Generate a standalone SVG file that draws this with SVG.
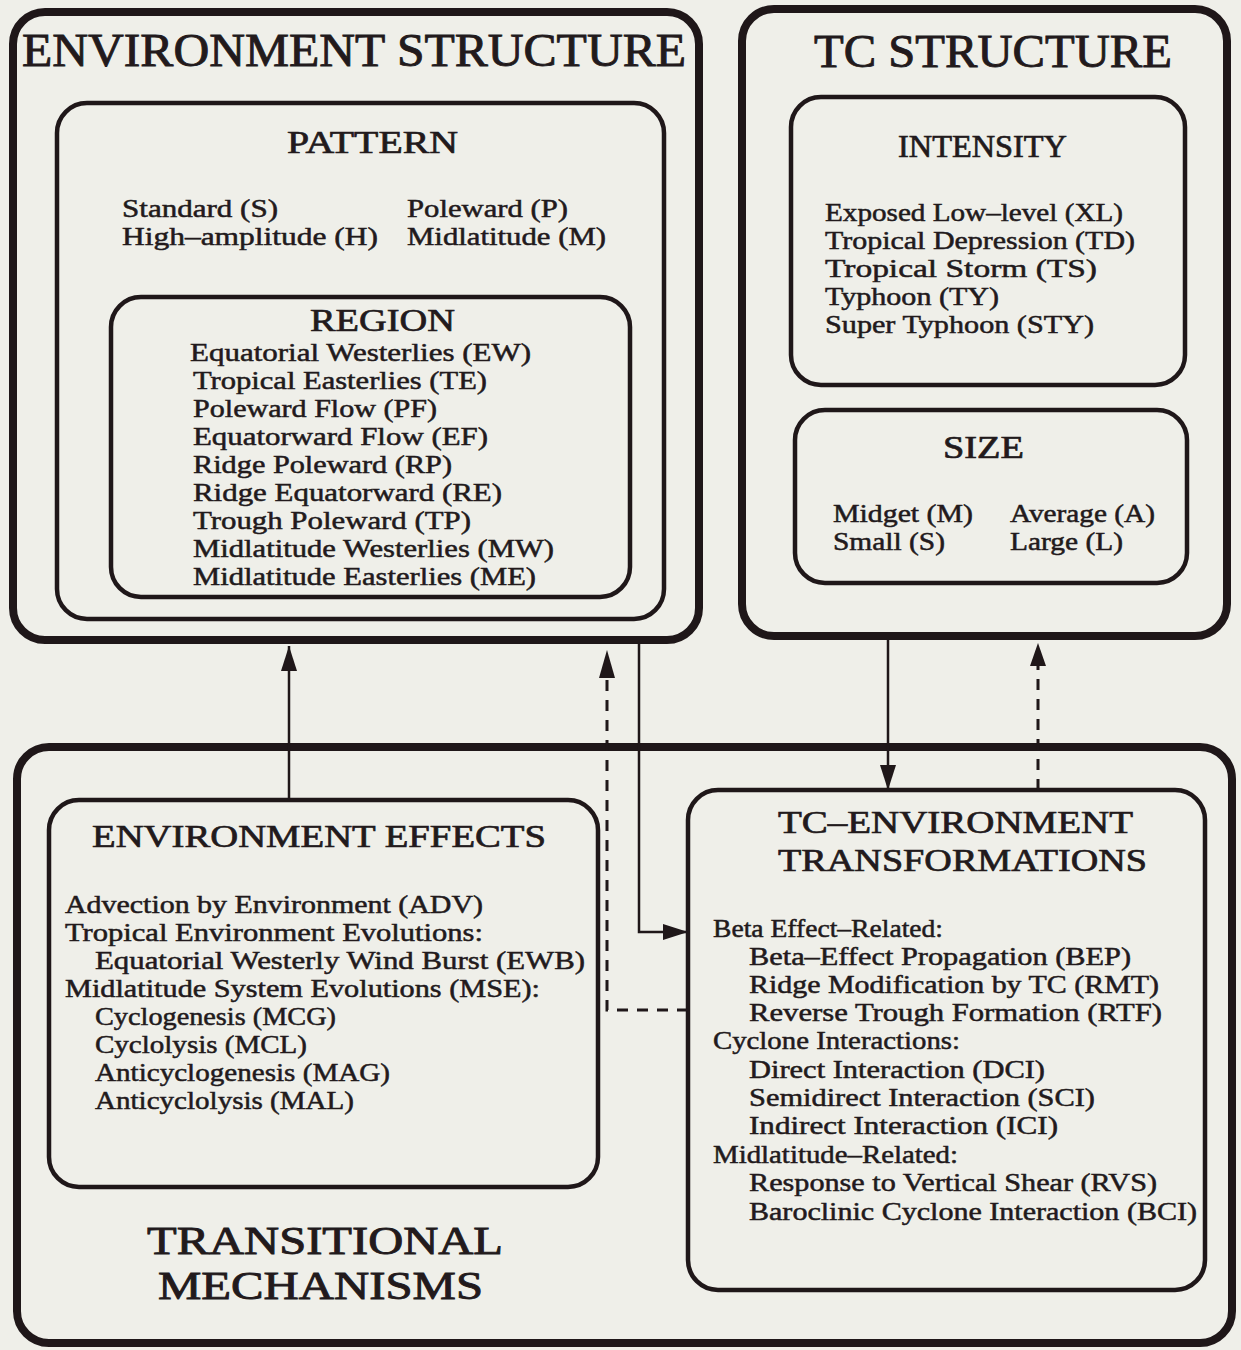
<svg xmlns="http://www.w3.org/2000/svg" width="1241" height="1350" viewBox="0 0 1241 1350">
  <style>
    text { font-family: "Liberation Serif", "Times New Roman", serif; fill: #221a1c; stroke: #221a1c; }
    .big { font-size: 46px; stroke-width: 0.9; }
    .big2 { font-size: 40px; stroke-width: 0.9; }
    .head { font-size: 32px; stroke-width: 0.7; }
    .body { font-size: 25px; stroke-width: 0.5; }
    .outer { fill: none; stroke: #1f1719; stroke-width: 8; }
    .inner { fill: none; stroke: #1f1719; stroke-width: 4.5; }
    .link { fill: none; stroke: #1f1719; stroke-width: 2.5; }
    .dash { fill: none; stroke: #1f1719; stroke-width: 3; stroke-dasharray: 11 9; }
  </style>
  <defs>
    <marker id="arrow" markerUnits="userSpaceOnUse" markerWidth="26" markerHeight="18" refX="25" refY="8" orient="auto">
      <path d="M0,0 L25,8 L0,16 Z" fill="#1f1719"/>
    </marker>
  </defs>

  <rect width="1241" height="1350" fill="#efefe9"/>

  <!-- Environment structure -->
  <g id="environment-structure">
    <rect class="outer" x="13" y="12" width="686" height="628" rx="32"/>
    <text class="big" x="22" y="66" textLength="664" lengthAdjust="spacingAndGlyphs">ENVIRONMENT STRUCTURE</text>
  </g>
  <g id="pattern">
    <rect class="inner" x="57" y="103" width="607" height="516" rx="30"/>
    <text class="head" x="287" y="153" textLength="171" lengthAdjust="spacingAndGlyphs">PATTERN</text>
    <text class="body" x="122" y="217" textLength="156" lengthAdjust="spacingAndGlyphs">Standard (S)</text>
    <text class="body" x="407" y="217" textLength="161" lengthAdjust="spacingAndGlyphs">Poleward (P)</text>
    <text class="body" x="122" y="245" textLength="256" lengthAdjust="spacingAndGlyphs">High–amplitude  (H)</text>
    <text class="body" x="407" y="245" textLength="199" lengthAdjust="spacingAndGlyphs">Midlatitude (M)</text>
  </g>
  <g id="region">
    <rect class="inner" x="111" y="297" width="519" height="300" rx="30"/>
    <text class="head" x="310" y="331" textLength="145" lengthAdjust="spacingAndGlyphs">REGION</text>
    <text class="body" x="190" y="361" textLength="341" lengthAdjust="spacingAndGlyphs">Equatorial Westerlies (EW)</text>
    <text class="body" x="193" y="389" textLength="294" lengthAdjust="spacingAndGlyphs">Tropical Easterlies (TE)</text>
    <text class="body" x="193" y="417" textLength="244" lengthAdjust="spacingAndGlyphs">Poleward Flow (PF)</text>
    <text class="body" x="193" y="445" textLength="295" lengthAdjust="spacingAndGlyphs">Equatorward Flow (EF)</text>
    <text class="body" x="193" y="473" textLength="259" lengthAdjust="spacingAndGlyphs">Ridge Poleward (RP)</text>
    <text class="body" x="193" y="501" textLength="309" lengthAdjust="spacingAndGlyphs">Ridge Equatorward (RE)</text>
    <text class="body" x="193" y="529" textLength="278" lengthAdjust="spacingAndGlyphs">Trough Poleward (TP)</text>
    <text class="body" x="193" y="557" textLength="361" lengthAdjust="spacingAndGlyphs">Midlatitude Westerlies (MW)</text>
    <text class="body" x="193" y="585" textLength="343" lengthAdjust="spacingAndGlyphs">Midlatitude Easterlies (ME)</text>
  </g>

  <!-- TC structure -->
  <g id="tc-structure">
    <rect class="outer" x="742" y="9" width="485" height="627" rx="32"/>
    <text class="big" x="814" y="67" textLength="358" lengthAdjust="spacingAndGlyphs">TC STRUCTURE</text>
  </g>
  <g id="intensity">
    <rect class="inner" x="791" y="97" width="394" height="288" rx="30"/>
    <text class="head" x="898" y="157" textLength="169" lengthAdjust="spacingAndGlyphs">INTENSITY</text>
    <text class="body" x="825" y="221" textLength="298" lengthAdjust="spacingAndGlyphs">Exposed Low–level (XL)</text>
    <text class="body" x="825" y="249" textLength="310" lengthAdjust="spacingAndGlyphs">Tropical Depression (TD)</text>
    <text class="body" x="825" y="277" textLength="272" lengthAdjust="spacingAndGlyphs">Tropical Storm (TS)</text>
    <text class="body" x="825" y="305" textLength="174" lengthAdjust="spacingAndGlyphs">Typhoon (TY)</text>
    <text class="body" x="825" y="333" textLength="269" lengthAdjust="spacingAndGlyphs">Super Typhoon (STY)</text>
  </g>
  <g id="size">
    <rect class="inner" x="795" y="410" width="392" height="173" rx="30"/>
    <text class="head" x="943" y="458" textLength="81" lengthAdjust="spacingAndGlyphs">SIZE</text>
    <text class="body" x="833" y="522" textLength="140" lengthAdjust="spacingAndGlyphs">Midget (M)</text>
    <text class="body" x="1010" y="522" textLength="145" lengthAdjust="spacingAndGlyphs">Average (A)</text>
    <text class="body" x="833" y="550" textLength="112" lengthAdjust="spacingAndGlyphs">Small (S)</text>
    <text class="body" x="1010" y="550" textLength="113" lengthAdjust="spacingAndGlyphs">Large (L)</text>
  </g>

  <!-- Transitional mechanisms -->
  <g id="transitional-mechanisms">
    <rect class="outer" x="17" y="747" width="1215" height="596" rx="32"/>
    <text class="big2" x="147" y="1254" textLength="356" lengthAdjust="spacingAndGlyphs">TRANSITIONAL</text>
    <text class="big2" x="158" y="1299" textLength="325" lengthAdjust="spacingAndGlyphs">MECHANISMS</text>
  </g>
  <g id="environment-effects">
    <rect class="inner" x="49" y="800" width="549" height="387" rx="30"/>
    <text class="head" x="92" y="847" textLength="454" lengthAdjust="spacingAndGlyphs">ENVIRONMENT EFFECTS</text>
    <text class="body" x="65" y="913" textLength="418" lengthAdjust="spacingAndGlyphs">Advection by Environment (ADV)</text>
    <text class="body" x="65" y="941" textLength="418" lengthAdjust="spacingAndGlyphs">Tropical Environment Evolutions:</text>
    <text class="body" x="95" y="969" textLength="490" lengthAdjust="spacingAndGlyphs">Equatorial Westerly Wind Burst (EWB)</text>
    <text class="body" x="65" y="997" textLength="475" lengthAdjust="spacingAndGlyphs">Midlatitude System Evolutions (MSE):</text>
    <text class="body" x="95" y="1025" textLength="241" lengthAdjust="spacingAndGlyphs">Cyclogenesis (MCG)</text>
    <text class="body" x="95" y="1053" textLength="212" lengthAdjust="spacingAndGlyphs">Cyclolysis (MCL)</text>
    <text class="body" x="95" y="1081" textLength="295" lengthAdjust="spacingAndGlyphs">Anticyclogenesis (MAG)</text>
    <text class="body" x="95" y="1109" textLength="259" lengthAdjust="spacingAndGlyphs">Anticyclolysis (MAL)</text>
  </g>
  <g id="tc-environment-transformations">
    <rect class="inner" x="688" y="790" width="517" height="500" rx="30"/>
    <text class="head" x="778" y="833" textLength="355" lengthAdjust="spacingAndGlyphs">TC–ENVIRONMENT</text>
    <text class="head" x="778" y="871" textLength="369" lengthAdjust="spacingAndGlyphs">TRANSFORMATIONS</text>
    <text class="body" x="713" y="937" textLength="230" lengthAdjust="spacingAndGlyphs">Beta Effect–Related:</text>
    <text class="body" x="749" y="965" textLength="382" lengthAdjust="spacingAndGlyphs">Beta–Effect Propagation (BEP)</text>
    <text class="body" x="749" y="993" textLength="410" lengthAdjust="spacingAndGlyphs">Ridge Modification by TC (RMT)</text>
    <text class="body" x="749" y="1021" textLength="413" lengthAdjust="spacingAndGlyphs">Reverse Trough Formation (RTF)</text>
    <text class="body" x="713" y="1049" textLength="247" lengthAdjust="spacingAndGlyphs">Cyclone Interactions:</text>
    <text class="body" x="749" y="1078" textLength="296" lengthAdjust="spacingAndGlyphs">Direct Interaction (DCI)</text>
    <text class="body" x="749" y="1106" textLength="346" lengthAdjust="spacingAndGlyphs">Semidirect Interaction (SCI)</text>
    <text class="body" x="749" y="1134" textLength="309" lengthAdjust="spacingAndGlyphs">Indirect Interaction (ICI)</text>
    <text class="body" x="713" y="1163" textLength="245" lengthAdjust="spacingAndGlyphs">Midlatitude–Related:</text>
    <text class="body" x="749" y="1191" textLength="408" lengthAdjust="spacingAndGlyphs">Response to Vertical Shear (RVS)</text>
    <text class="body" x="749" y="1220" textLength="448" lengthAdjust="spacingAndGlyphs">Baroclinic Cyclone Interaction (BCI)</text>
  </g>

  <!-- Connectors between the structure and mechanism boxes -->
  <g id="connectors">
    <path class="link" d="M289,800 V646" marker-end="url(#arrow)"/>
    <path class="dash" d="M688,1010 H607 V668"/>
    <path d="M607,650 L615,678 L599,678 Z" fill="#1f1719"/>
    <path class="link" d="M639,644 V932 H688" marker-end="url(#arrow)"/>
    <path class="link" d="M888,640 V790" marker-end="url(#arrow)"/>
    <path class="dash" d="M1038,790 V655"/>
    <path d="M1038,643 L1046,666 L1030,666 Z" fill="#1f1719"/>
  </g>
</svg>
